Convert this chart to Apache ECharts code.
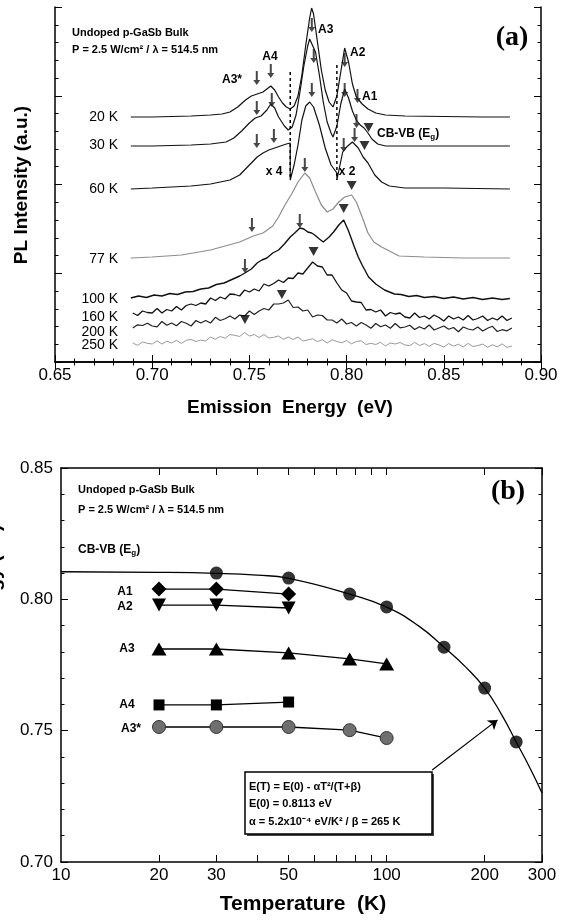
<!DOCTYPE html>
<html>
<head>
<meta charset="utf-8">
<script src="https://cdn.jsdelivr.net/npm/echarts@6/dist/echarts.min.js"></script>
<style>
  html, body { margin: 0; padding: 0; background: #fff; }
  #chart { width: 572px; height: 921px; }
</style>
</head>
<body>
<div id="chart"></div>
<script>
// ---- (a) PL spectra: [emission energy (eV), PL intensity (a.u., offset)] ----
const spec20K = [[0.689,245],[0.70,245],[0.71,245.5],[0.72,246],[0.73,247],[0.736,248],[0.740,250],[0.744,255],[0.748,262],[0.751,266],[0.754,268],[0.757,270],[0.759,273],[0.761,276],[0.763,272],[0.765,265],[0.767,259],[0.769,255],[0.771,253],[0.773,256],[0.775,266],[0.777,287],[0.779,317],[0.781,344],[0.782,354],[0.783,348],[0.785,320],[0.787,292],[0.789,272],[0.791,260],[0.793,255],[0.795,266],[0.797,290],[0.799,314],[0.801,300],[0.803,278],[0.805,265],[0.808,258],[0.811,253],[0.815,249],[0.82,247],[0.83,246],[0.85,245.5],[0.87,245],[0.884,245]];
const spec30K = [[0.689,216],[0.70,216],[0.72,217],[0.73,218],[0.738,220],[0.742,224],[0.746,231],[0.750,239],[0.753,244],[0.756,246],[0.759,252],[0.761,258],[0.763,254],[0.765,245],[0.768,236],[0.770,232],[0.772,235],[0.774,247],[0.776,270],[0.778,296],[0.780,316],[0.781,323],[0.782,322],[0.784,310],[0.786,287],[0.788,260],[0.790,240],[0.792,229],[0.793,225],[0.795,236],[0.797,258],[0.799,273],[0.801,264],[0.803,251],[0.805,242],[0.807,237],[0.809,234],[0.811,229],[0.813,223],[0.816,218],[0.82,216],[0.85,216],[0.884,216]];
const spec60K = [[0.689,173],[0.70,174],[0.72,176],[0.73,178],[0.74,182],[0.745,187],[0.750,197],[0.754,205],[0.757,209],[0.760,212],[0.763,214],[0.766,216],[0.769,218],[0.771,219],[0.771,182],[0.773,197],[0.775,217],[0.777,242],[0.779,256],[0.781,260],[0.783,255],[0.786,237],[0.789,214],[0.792,197],[0.795,189],[0.795,182],[0.798,210],[0.800,215],[0.803,220],[0.806,214],[0.8085,205],[0.811,199],[0.8145,187],[0.818,180],[0.822,176],[0.83,174],[0.85,174],[0.884,173]];
const spec77K = [[0.689,104],[0.70,105],[0.715,107],[0.73,112],[0.745,120],[0.752,126],[0.757,129],[0.762,136],[0.765,145],[0.768,156],[0.772,169],[0.775,180],[0.7785,189],[0.781,184],[0.784,170],[0.787,157],[0.790,150],[0.793,153],[0.796,160],[0.799,165],[0.8026,167],[0.805,160],[0.808,145],[0.811,129],[0.814,120],[0.818,115],[0.827,106],[0.84,105],[0.86,104],[0.884,104]];
const spec100K = [[0.689,64],[0.693,66],[0.697,64.5],[0.701,67],[0.705,66],[0.709,68.5],[0.713,67.5],[0.717,70],[0.721,70.5],[0.725,73],[0.729,74],[0.733,77.5],[0.737,79],[0.741,82.5],[0.745,86],[0.7477,89],[0.751,93],[0.754,99],[0.7564,102],[0.759,104],[0.762,109],[0.765,112],[0.768,118],[0.771,125],[0.7733,129],[0.776,134],[0.778,133],[0.780,130],[0.782,129],[0.7836,127],[0.786,123],[0.788,120],[0.791,125],[0.7933,130],[0.796,137],[0.7985,142],[0.801,131],[0.804,115],[0.806,105],[0.808,97],[0.8113,85],[0.815,78],[0.8195,72],[0.8246,68],[0.828,67.5],[0.832,65.5],[0.836,66.5],[0.840,64.5],[0.845,65.5],[0.850,63.5],[0.855,65],[0.860,63],[0.865,64.5],[0.870,62.5],[0.875,64],[0.880,62.5],[0.884,63.5]];

const noisyE = [0.6900,0.6925,0.6950,0.6975,0.7000,0.7025,0.7050,0.7075,0.7100,0.7125,0.7150,0.7175,0.7200,0.7225,0.7250,0.7275,0.7300,0.7325,0.7350,0.7375,0.7400,0.7425,0.7450,0.7475,0.7500,0.7525,0.7550,0.7575,0.7600,0.7625,0.7650,0.7675,0.7700,0.7725,0.7750,0.7775,0.7800,0.7825,0.7850,0.7875,0.7900,0.7925,0.7950,0.7975,0.8000,0.8025,0.8050,0.8075,0.8100,0.8125,0.8150,0.8175,0.8200,0.8225,0.8250,0.8275,0.8300,0.8325,0.8350,0.8375,0.8400,0.8425,0.8450,0.8475,0.8500,0.8525,0.8550,0.8575,0.8600,0.8625,0.8650,0.8675,0.8700,0.8725,0.8750,0.8775,0.8800,0.8825,0.8850];
const int160K = [49,46.5,51,49.5,49,53.5,49,52.5,51,55.5,52,56.5,58,56.5,59,58,64,61.5,65,63,68,67.5,66,72,70,73,71,78,76,78.5,82,79.5,84,83.5,89,88,94,100,96,95,87,87,79,72,69,61,60,59.5,52,52.5,50,52,46,49.5,48,49,45,44,49,44.5,46,43,47,44.5,41,46,43,45,42,46.5,42,43.5,46,41.5,44,42,46,41.5,44];
const int200K = [34,37.2,36.5,38.7,36,35.2,40.5,36.7,39,36.2,40.5,38.7,36,41.5,39,41.5,39,44.7,41.5,43.2,46,43,47,46,51,47.5,51,53.5,52,58,58,59,62,54.5,55,51,52,45,47,46.5,42,42,39,43,38,39.5,36,39.5,37,33.7,38.5,35.2,37,33.7,38.5,34.2,35,36.7,32.5,35.2,33,37,32,34,36,32.7,34.5,30.2,35,33,32,35,31,33.8,35.7,30.5,32.3,31.2,34];
const int250K = [19,16.7,20,18.7,18,21.2,18,20.7,19,21.7,18.5,21.7,22.5,20.5,22,21,25,22.7,25.5,23.7,27.5,26.7,25.5,29.5,26,27.5,24.5,27.5,24,24.7,26,22.7,25,22.5,25,21,22,23.2,20.5,22.2,19,22.2,20.5,19.2,21.5,18.2,20.5,21.2,17.5,18.7,17.5,19.7,16,19,18,19.5,17,16.4,19.6,16.5,18.4,15.7,18.6,17.1,15,18.5,15.9,17.8,15.1,18.6,15.5,16.4,17.9,14.8,17.2,15.1,18.1,14.6,16];

// peak markers in (a): arrows (A-lines) and triangles (CB-VB)
const arrowTips = [
  [0.7538,277],[0.7610,284],[0.7821,330],[0.7990,295],[0.8056,259],
  [0.7538,247],[0.7615,255],[0.7831,299],[0.7990,265],[0.8051,234],
  [0.7538,214],[0.7626,219],[0.7821,265],[0.7985,210],[0.8041,220],
  [0.7513,130],[0.7785,190],[0.7477,89],[0.7759,134]
];
const cbvbTips = [[0.8113,230],[0.8092,212],[0.8026,172],[0.7985,149],[0.783,106],[0.7667,63],[0.7477,38]];
const dash1 = [[0.771,290],[0.771,182]];
const dash2 = [[0.795,297],[0.795,182]];

// ---- (b) peak energy vs temperature ----
const cbvbT = [30, 50, 77, 100, 150, 200, 250];
const cbvbE = [0.8100, 0.8081, 0.8020, 0.7971, 0.7818, 0.7662, 0.7457];
const lowT = [20, 30, 50];
const a1E = [0.8039, 0.8039, 0.8020];
const a2E = [0.7978, 0.7978, 0.7967];
const a4E = [0.7598, 0.7598, 0.7609];
const wideT = [20, 30, 50, 77, 100];
const a3E = [0.7811, 0.7811, 0.7796, 0.7773, 0.7754];
const a3sE = [0.7514, 0.7514, 0.7514, 0.7502, 0.7472];
const fitT = [10, 20, 30, 40, 50, 77, 100, 125, 150, 175, 200, 225, 250, 275, 300];
const fitE = [0.8105, 0.8103, 0.8099, 0.8092, 0.8080, 0.8020, 0.7970, 0.7900, 0.7818, 0.7742, 0.7662, 0.7563, 0.7457, 0.7360, 0.7263];
const tickT = [20, 30, 40, 50, 60, 70, 80, 90, 100, 200, 300];
const labelT = [10, 20, 30, 50, 100, 200, 300];

const zip = (xs, ys) => xs.map((x, i) => [x, ys[i]]);
const SANS = '"Liberation Sans", Arial, sans-serif';
const SERIF = '"Liberation Serif", "Times New Roman", serif';
const black = '#000';

const chart = echarts.init(document.getElementById('chart'));

const frame = { lineStyle: { color: black, width: 1.5 } };
const tick = { inside: true, length: 7, lineStyle: { color: black, width: 1 } };
const minor = { show: true, splitNumber: 5, length: 3.5, lineStyle: { color: black, width: 1 } };

function spectrum(data, color, width) {
  return {
    type: 'line', xAxisIndex: 0, yAxisIndex: 0, data: data,
    showSymbol: false, symbol: 'none', silent: true, z: 3,
    lineStyle: { color: color, width: width || 1.2 }
  };
}

const arrowPath = 'path://M2,0 L4,0 L4,9 L6.5,9 L3,14 L-0.5,9 L2,9 Z';
const downTri = 'path://M0,0 L10,0 L5,9 Z';

function text(x, y, str, font, align, extra) {
  return Object.assign({
    type: 'text', x: x, y: y, silent: true, z: 20,
    style: { text: str, font: font, fill: black, align: align || 'left', verticalAlign: 'middle' }
  }, extra || {});
}

const small = 'bold 11px ' + SANS;
const peakFont = 'bold 12px ' + SANS;
const tempFont = '14px ' + SANS;
const tempNames = ['20 K', '30 K', '60 K', '77 K', '100 K', '160 K', '200 K', '250 K'];
const tempY = [117, 145, 189, 259, 299, 317, 332, 345];
const subRich = { s: { fontSize: 8, fontWeight: 'bold', fontFamily: SANS, fill: black, verticalAlign: 'bottom', padding: [6, 0, 0, 0] } };

const option = {
  animation: false,
  backgroundColor: '#fff',
  grid: [
    { left: 55, top: 7, width: 486, height: 355, outerBoundsMode: 'none', containLabel: false },
    { left: 61, top: 468, width: 481, height: 394, outerBoundsMode: 'none', containLabel: false }
  ],
  xAxis: [
    { gridIndex: 0, type: 'value', min: 0.65, max: 0.90, interval: 0.05, position: 'bottom',
      axisLine: frame, axisTick: tick, minorTick: minor, splitLine: { show: false },
      axisLabel: { fontSize: 17, color: black, fontFamily: SANS, margin: 5, formatter: v => v.toFixed(2) } },
    { gridIndex: 0, type: 'value', min: 0.65, max: 0.90, interval: 0.05, position: 'top',
      axisLine: frame, axisTick: tick, minorTick: minor, splitLine: { show: false },
      axisLabel: { show: false } },
    { gridIndex: 1, type: 'log', logBase: 10, min: 10, max: 300, position: 'bottom',
      axisLine: frame, axisTick: Object.assign({}, tick, { customValues: tickT }),
      splitLine: { show: false }, minorTick: { show: false },
      axisLabel: { fontSize: 17, color: black, fontFamily: SANS, margin: 5, customValues: labelT,
        formatter: v => String(Math.round(v)) } },
    { gridIndex: 1, type: 'log', logBase: 10, min: 10, max: 300, position: 'top',
      axisLine: frame, axisTick: Object.assign({}, tick, { customValues: tickT }),
      splitLine: { show: false }, minorTick: { show: false },
      axisLabel: { show: false } }
  ],
  yAxis: [
    { gridIndex: 0, type: 'value', min: 0, max: 355, interval: 88.75, position: 'left',
      axisLine: frame, axisTick: tick, minorTick: minor, splitLine: { show: false },
      axisLabel: { show: false } },
    { gridIndex: 0, type: 'value', min: 0, max: 355, interval: 88.75, position: 'right',
      axisLine: frame, axisTick: tick, minorTick: minor, splitLine: { show: false },
      axisLabel: { show: false } },
    { gridIndex: 1, type: 'value', min: 0.70, max: 0.85, interval: 0.05, position: 'left',
      axisLine: frame, axisTick: tick, minorTick: minor, splitLine: { show: false },
      axisLabel: { fontSize: 17, color: black, fontFamily: SANS, margin: 8, formatter: v => v.toFixed(2) } },
    { gridIndex: 1, type: 'value', min: 0.70, max: 0.85, interval: 0.05, position: 'right',
      axisLine: frame, axisTick: tick, minorTick: minor, splitLine: { show: false },
      axisLabel: { show: false } }
  ],
  series: [
    spectrum(spec20K, '#111'),
    spectrum(spec30K, '#111'),
    spectrum(spec60K, '#111'),
    spectrum(spec77K, '#8c8c8c'),
    spectrum(spec100K, '#111', 1.4),
    spectrum(zip(noisyE, int160K), '#111', 1.3),
    spectrum(zip(noisyE, int200K), '#222', 1.2),
    spectrum(zip(noisyE, int250K), '#999', 1),
    { type: 'line', xAxisIndex: 0, yAxisIndex: 0, data: dash1, symbol: 'none', silent: true,
      lineStyle: { color: black, width: 1.5, type: [3, 3] } },
    { type: 'line', xAxisIndex: 0, yAxisIndex: 0, data: dash2, symbol: 'none', silent: true,
      lineStyle: { color: black, width: 1.5, type: [3, 3] } },
    { type: 'scatter', xAxisIndex: 0, yAxisIndex: 0, data: arrowTips, symbol: arrowPath,
      symbolSize: [7, 14], symbolOffset: [0, '-50%'], itemStyle: { color: '#1a1a1a' }, silent: true, z: 5 },
    { type: 'scatter', xAxisIndex: 0, yAxisIndex: 0, data: cbvbTips, symbol: downTri,
      symbolSize: [10, 9], symbolOffset: [0, '-50%'], itemStyle: { color: black }, silent: true, z: 5 },

    // (b)
    { type: 'line', xAxisIndex: 2, yAxisIndex: 2, data: zip(fitT, fitE), smooth: true,
      showSymbol: false, symbol: 'none', silent: true, lineStyle: { color: black, width: 1.3 },
      markLine: { silent: true, symbol: ['none', 'arrow'], symbolSize: 9, label: { show: false },
        lineStyle: { color: black, width: 1.2, type: 'solid' },
        data: [[{ coord: [138, 0.7350] }, { coord: [219, 0.7541] }]] } },
    { type: 'scatter', xAxisIndex: 2, yAxisIndex: 2, data: zip(cbvbT, cbvbE), symbol: 'circle',
      symbolSize: 13, itemStyle: { color: black }, silent: true, z: 4 },
    { type: 'line', xAxisIndex: 2, yAxisIndex: 2, data: zip(lowT, a1E), symbol: 'diamond',
      symbolSize: 15, showAllSymbol: true, itemStyle: { color: black }, lineStyle: { color: black, width: 1.3 }, silent: true },
    { type: 'line', xAxisIndex: 2, yAxisIndex: 2, data: zip(lowT, a2E), symbol: downTri,
      symbolSize: [14, 13], itemStyle: { color: black }, lineStyle: { color: black, width: 1.3 }, silent: true },
    { type: 'line', xAxisIndex: 2, yAxisIndex: 2, data: zip(wideT, a3E), symbol: 'triangle',
      symbolSize: [15, 13], itemStyle: { color: black }, lineStyle: { color: black, width: 1.3 }, silent: true },
    { type: 'line', xAxisIndex: 2, yAxisIndex: 2, data: zip(lowT, a4E), symbol: 'rect',
      symbolSize: 11, itemStyle: { color: black }, lineStyle: { color: black, width: 1.3 }, silent: true },
    { type: 'line', xAxisIndex: 2, yAxisIndex: 2, data: zip(wideT, a3sE), symbol: 'circle',
      symbolSize: 13, itemStyle: { color: '#6f6f6f', borderColor: '#333', borderWidth: 1 }, lineStyle: { color: black, width: 1.3 }, silent: true }
  ],
  graphic: [
    // (a) texts
    text(72, 33, 'Undoped p-GaSb Bulk', small),
    text(72, 50, 'P = 2.5 W/cm\u00b2 / \u03bb = 514.5 nm', small),
    text(512, 38, '(a)', 'bold 28px ' + SERIF, 'center'),
    text(318, 30, 'A3', peakFont),
    text(350, 53, 'A2', peakFont),
    text(270, 57, 'A4', peakFont, 'center'),
    text(242, 80, 'A3*', peakFont, 'right'),
    text(362, 97, 'A1', peakFont),
    { type: 'text', x: 377, y: 134, silent: true, z: 20,
      style: { text: 'CB-VB (E{s|g})', font: peakFont, fill: black, verticalAlign: 'middle', rich: subRich } },
    text(274, 172, 'x 4', peakFont, 'center'),
    text(347, 172, 'x 2', peakFont, 'center'),
    ...tempNames.map((t, i) => text(118, tempY[i], t, tempFont, 'right')),
    text(22, 185, 'PL Intensity (a.u.)', 'bold 19px ' + SANS, 'center', { rotation: Math.PI / 2 }),
    text(290, 408, 'Emission  Energy  (eV)', 'bold 19px ' + SANS, 'center'),

    // (b) texts
    text(78, 490, 'Undoped p-GaSb Bulk', small),
    text(78, 510, 'P = 2.5 W/cm\u00b2 / \u03bb = 514.5 nm', small),
    text(508, 492, '(b)', 'bold 28px ' + SERIF, 'center'),
    { type: 'text', x: 78, y: 550, silent: true, z: 20,
      style: { text: 'CB-VB (E{s|g})', font: peakFont, fill: black, verticalAlign: 'middle', rich: subRich } },
    text(125, 592, 'A1', peakFont, 'center'),
    text(125, 607, 'A2', peakFont, 'center'),
    text(127, 649, 'A3', peakFont, 'center'),
    text(127, 705, 'A4', peakFont, 'center'),
    text(131, 729, 'A3*', peakFont, 'center'),
    text(-6, 580, 'Energy (eV)', 'bold 20px ' + SANS, 'center', { rotation: Math.PI / 2 }),
    text(303, 904, 'Temperature  (K)', 'bold 21px ' + SANS, 'center'),
    { type: 'rect', shape: { x: 247, y: 774, width: 187, height: 62 }, style: { fill: '#444' }, silent: true, z: 18 },
    { type: 'rect', shape: { x: 245, y: 772, width: 187, height: 62 }, style: { fill: '#fff', stroke: black, lineWidth: 1.5 }, silent: true, z: 19 },
    text(249, 787, 'E(T) = E(0) - \u03b1T\u00b2/(T+\u03b2)', small),
    text(249, 804, 'E(0) = 0.8113 eV', small),
    text(249, 822, '\u03b1 = 5.2x10\u207b\u2074 eV/K\u00b2 / \u03b2 = 265 K', small)
  ]
};

chart.setOption(option);
</script>
</body>
</html>
